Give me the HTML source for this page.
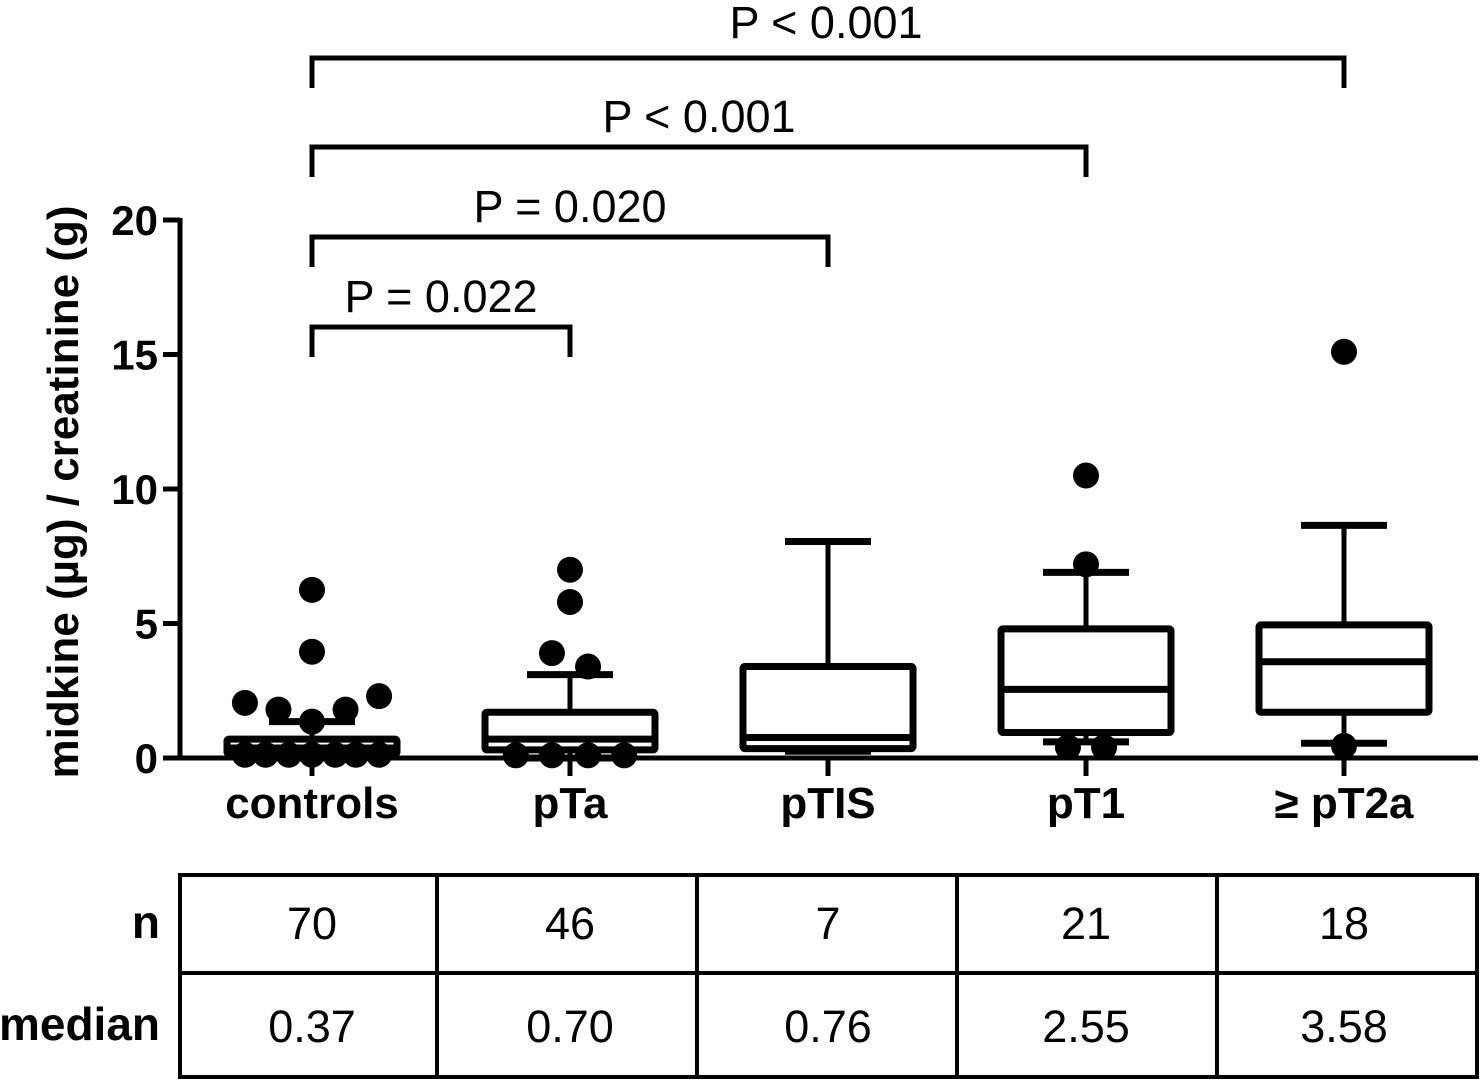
<!DOCTYPE html>
<html><head><meta charset="utf-8"><style>
body{margin:0;background:#fff}
svg text{font-family:"Liberation Sans",Arial,sans-serif;fill:#000}
</style></head><body>
<svg id="c" width="1480" height="1081" xmlns="http://www.w3.org/2000/svg"></svg>
<script>
const categories=["controls","pTa","pTIS","pT1","≥ pT2a"];
const q1=[0.15,0.3,0.35,0.95,1.7];
const medians=[0.37,0.7,0.76,2.55,3.58];
const q3=[0.7,1.7,3.4,4.8,4.95];
const whiskLo=[0,0,0.25,0.6,0.55];
const whiskHi=[1.35,3.1,8.05,6.9,8.65];
const outliers=[
 [[0,6.25],[0,3.95],[-0.26,2.05],[-0.13,1.8],[0,1.35],[0.13,1.8],[0.26,2.3],[-0.26,0.12],[-0.18,0.12],[-0.09,0.12],[0,0.12],[0.09,0.12],[0.17,0.12],[0.26,0.12]],
 [[0,7.0],[0,5.8],[-0.07,3.9],[0.07,3.4],[-0.21,0.1],[-0.07,0.1],[0.07,0.1],[0.21,0.1]],
 [],
 [[0,10.5],[0,7.2],[-0.07,0.4],[0.07,0.4]],
 [[0,15.1],[0,0.45]]
];
const yTicks=[0,5,10,15,20];
const nVals=["70","46","7","21","18"];
const medLabels=["0.37","0.70","0.76","2.55","3.58"];
const comps=[[1,"P = 0.022"],[2,"P = 0.020"],[3,"P < 0.001"],[4,"P < 0.001"]];
const NS="http://www.w3.org/2000/svg",svg=document.getElementById("c");
const y=v=>758-v*26.9, x=i=>312+i*258;
function el(t,a,p){const e=document.createElementNS(NS,t);for(const k in a)e.setAttribute(k,a[k]);(p||svg).appendChild(e);return e;}
function ln(x1,y1,x2,y2,w,p){return el("line",{x1,y1,x2,y2,stroke:"#000","stroke-width":w||5},p);}
let ax=el("g",{});
ln(180,y(20)-2,180,760,5,ax);
yTicks.forEach(t=>{ln(163,y(t),180,y(t),5,ax);const tx=el("text",{x:158,y:y(t)+15,"text-anchor":"end","font-size":42,"font-weight":"bold"},ax);tx.textContent=t;});
let xa=el("g",{});
ln(178,758,1478,758,5,xa);
categories.forEach((c,i)=>{ln(x(i),758,x(i),776,5,xa);const tx=el("text",{x:x(i),y:818,"text-anchor":"middle","font-size":44,"font-weight":"bold"},xa);tx.textContent=c;});
const yl=el("text",{x:0,y:0,transform:"translate(78,492) rotate(-90)","text-anchor":"middle","font-size":44,"font-weight":"bold"});
yl.textContent="midkine (µg) / creatinine (g)";

categories.forEach((c,i)=>{
 const g=el("g",{});
 const cx=x(i);
 ln(cx,y(q3[i]),cx,y(whiskHi[i]),5,g);ln(cx,y(q1[i]),cx,y(whiskLo[i]),5,g);
 ln(cx-43,y(whiskHi[i]),cx+43,y(whiskHi[i]),7,g);ln(cx-43,y(whiskLo[i]),cx+43,y(whiskLo[i]),7,g);
 el("rect",{x:cx-85,y:y(q3[i]),width:170,height:y(q1[i])-y(q3[i]),fill:"#fff",stroke:"#000","stroke-width":7,rx:2},g);
 ln(cx-85,y(medians[i]),cx+85,y(medians[i]),7,g);
 outliers[i].forEach(p=>{const d=el("circle",{cx:cx+p[0]*258,cy:y(p[1]),r:13,fill:"#000"},g);});
});
const by=[327,237,147,58],ty=[312,222,132,38];
comps.forEach((c,k)=>{
 const g=el("g",{});
 const x1=x(0),x2=x(c[0]);
 el("polyline",{points:`${x1},${by[k]+30} ${x1},${by[k]} ${x2},${by[k]} ${x2},${by[k]+30}`,fill:"none",stroke:"#000","stroke-width":5},g);
 const t=el("text",{x:(k==3?826:(x1+x2)/2),y:ty[k],"text-anchor":"middle","font-size":45},g);t.textContent=c[1];
});
const tb=el("g",{});
el("rect",{x:180,y:875,width:1297,height:202,fill:"none",stroke:"#000","stroke-width":4},tb);
ln(180,973,1477,973,4,tb);
[437,697,957,1217].forEach(v=>ln(v,875,v,1077,4,tb));
let t=el("text",{x:160,y:938,"text-anchor":"end","font-size":46,"font-weight":"bold"},tb);t.textContent="n";
t=el("text",{x:160,y:1040,"text-anchor":"end","font-size":46,"font-weight":"bold"},tb);t.textContent="median";
categories.forEach((c,i)=>{
 let a=el("text",{x:x(i),y:939,"text-anchor":"middle","font-size":45},tb);a.textContent=nVals[i];
 a=el("text",{x:x(i),y:1042,"text-anchor":"middle","font-size":45},tb);a.textContent=medLabels[i];
});
</script>
</body></html>
